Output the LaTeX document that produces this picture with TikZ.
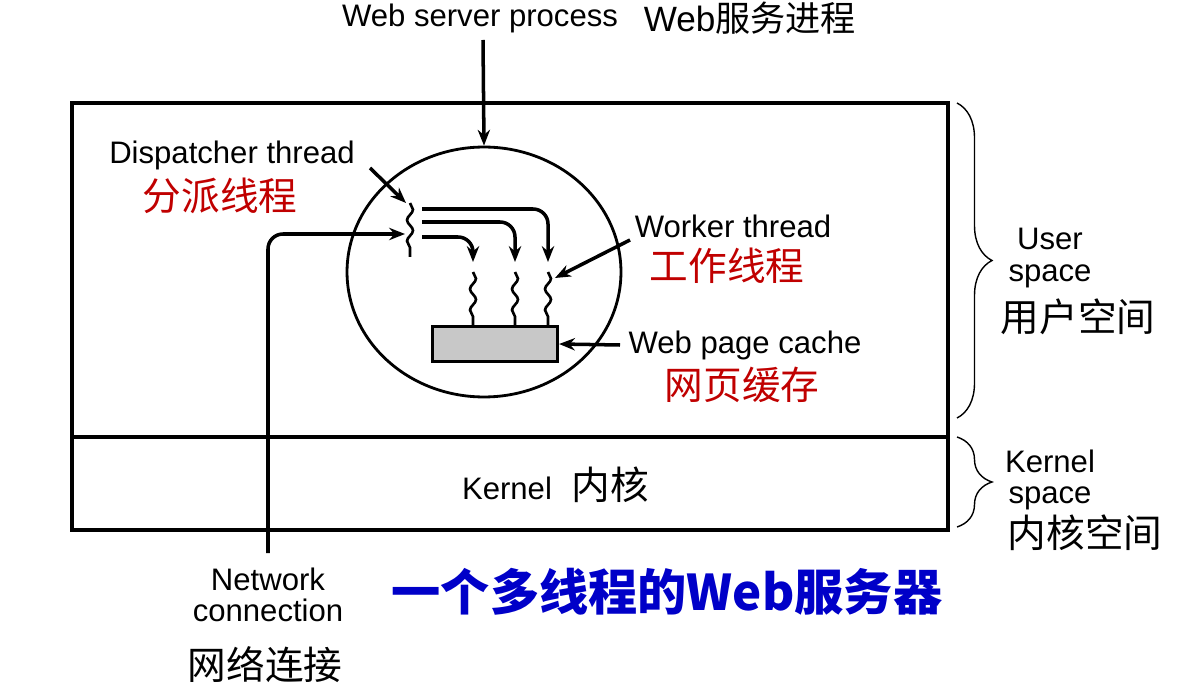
\documentclass[tikz,border=0pt]{standalone}
\usepackage{fontspec}
\setsansfont{Liberation Sans}
\newfontfamily\cjk{Noto Sans CJK SC}
\usetikzlibrary{shapes.geometric,arrows.meta,positioning,decorations.pathmorphing,decorations.pathreplacing}
\definecolor{cnred}{RGB}{192,0,0}
\definecolor{titleblue}{RGB}{0,0,200}
\definecolor{cachegray}{RGB}{200,200,200}

\begin{document}
\begin{tikzpicture}[
  x=0.02cm, y=-0.02cm, font=\sffamily\fontsize{17.7}{18}\selectfont,
  >={Stealth[length=9pt,width=7pt]},
  frame/.style={draw=black, line width=1.9pt},
  ring/.style={ellipse, draw=black, line width=1.6pt, minimum width=5.48cm,
               minimum height=5cm, inner sep=0pt},
  wire/.style={->, line width=2pt, rounded corners=0.3cm},
  ptr/.style={->, line width=2pt},
  squig/.style={line width=1.5pt, decorate,
                decoration={snake, amplitude=0.06cm, segment length=0.42cm}},
  lbl/.style={inner sep=1pt, align=center},
  cnlbl/.style={inner sep=1pt, font=\cjk\fontsize{22}{24}\selectfont},
  curly/.style={draw=black, line width=0.8pt, decorate,
                decoration={brace, amplitude=0.7cm}}]

  \useasboundingbox (0,0) rectangle (1193,692);

  % ---------- machine ----------
  \draw[frame] (72,103) rectangle (948,530);
  \draw[frame] (72,437) -- (948,437);
  \node[ring] (proc) at (484,272) {};
  \node[rectangle, draw=black, line width=1.8pt, fill=cachegray,
        minimum width=2.5cm, minimum height=0.7cm, inner sep=0pt] (cache) at (495,344) {};

  % ---------- labels ----------
  \node[lbl] (wsp) at (480,18) {Web server process};
  \node[inner sep=1pt] (wspcn) at (750,18) {\fontsize{20}{22}\selectfont Web{\cjk 服务进程}};
  \node[lbl] (disp) at (232,155) {Dispatcher thread};
  \node[cnlbl, text=cnred] (dispcn) at (220,196) {分派线程};
  \node[lbl] (work) at (733,226) {Worker thread};
  \node[cnlbl, text=cnred] (workcn) at (727,266) {工作线程};
  \node[lbl] (wpc) at (745,345) {Web page cache};
  \node[cnlbl, text=cnred] (wpccn) at (742,385) {网页缓存};
  \node[lbl] (kern) at (507,488) {Kernel};
  \node[cnlbl] (kerncn) at (610,485) {内核};
  \node[lbl] (user) at (1050,258) {User\\space};
  \node[cnlbl] (usercn) at (1078,317) {用户空间};
  \node[lbl] (kspace) at (1050,480) {Kernel\\space};
  \node[cnlbl] (kspacecn) at (1085,533) {内核空间};
  \node[lbl] (net) at (268,595) {Network\\connection};
  \node[cnlbl] (netcn) at (265,665) {网络连接};
  \node[inner sep=1pt, text=titleblue, font=\cjk\bfseries\fontsize{28}{30}\selectfont] (title) at (667,592) {一个多线程的Web服务器};

  % ---------- threads ----------
  \coordinate (dtop) at (410,203);
  \coordinate (dbot) at (410,257);
  \coordinate (dmid) at (405,234);
  \draw[squig] (dtop) -- (dbot);
  \foreach \wx/\nm in {473/wa, 515/wb, 548/wc} {
    \coordinate (\nm top) at (\wx,272);
    \coordinate (\nm bot) at (\wx,326);
    \coordinate (\nm in) at (\wx,262);
    \draw[squig] (\nm top) -- (\nm bot);
  }
  \draw[wire] (422,209) -| (wcin);
  \draw[wire] (422,222) -| (wbin);
  \draw[wire] (422,237) -| (wain);

  % ---------- pointers ----------
  \coordinate (wsptail) at (483,40);
  \coordinate (disptail) at (370,168);
  \coordinate (disphead) at (406,203);
  \coordinate (worktail) at (630,240);
  \coordinate (workhead) at (555,278);
  \coordinate (wpctail) at (620,345);
  \coordinate (nettail) at (268,553);
  \draw[ptr] (wsptail) -- (proc.north);
  \draw[ptr] (disptail) -- (disphead);
  \draw[ptr] (worktail) -- (workhead);
  \draw[ptr] (wpctail) -- (cache.east);
  \draw[wire] (nettail) |- (dmid);

  % ---------- braces ----------
  \draw[curly] (957,103) -- (957,418);
  \draw[curly] (957,437) -- (957,527);

\end{tikzpicture}
\end{document}
